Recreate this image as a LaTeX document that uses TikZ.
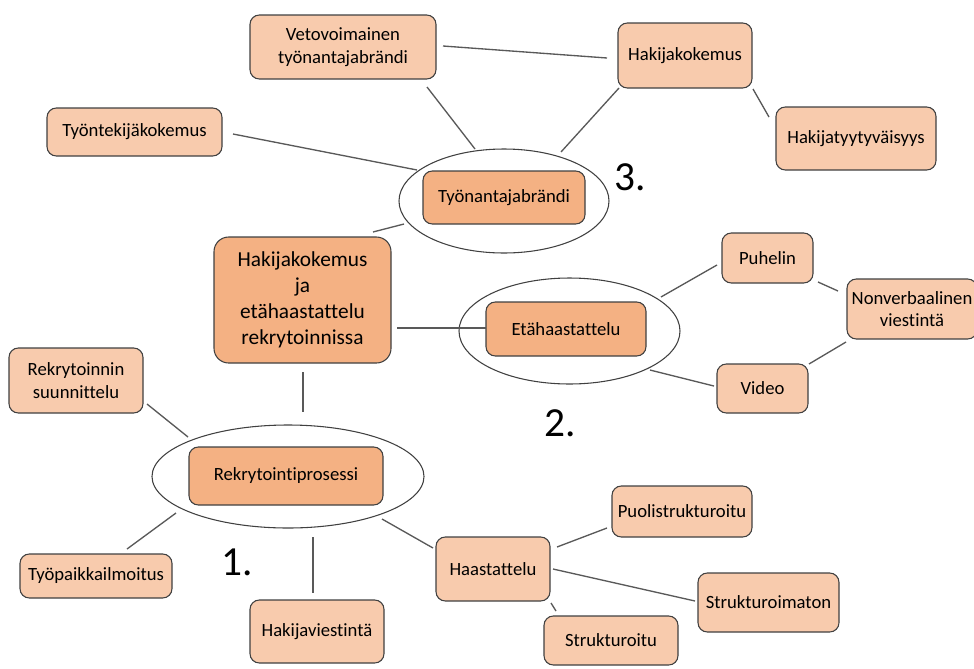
\documentclass[tikz,border=0pt]{standalone}
\usepackage{fontspec}
\setmainfont{Carlito}[Ligatures=NoCommon]
\usetikzlibrary{shapes.geometric}
\definecolor{lightor}{HTML}{F8CBAD}
\definecolor{darkor}{HTML}{F4B183}
\definecolor{edgegray}{HTML}{404040}
\definecolor{linegray}{HTML}{595959}
\begin{document}
\begin{tikzpicture}[x=0.75pt,y=-0.75pt,
  sz/.style 2 args={minimum width=#1*0.75pt, minimum height=#2*0.75pt},
  box/.style={draw=edgegray, line width=0.8pt, rounded corners=7pt, align=center, inner sep=0pt, font=\fontsize{14}{17.5}\selectfont},
  light/.style={box, fill=lightor},
  dark/.style={box, fill=darkor},
  ring/.style={draw=edgegray, ellipse, line width=0.8pt, inner sep=0pt},
  link/.style={draw=linegray, line width=1pt},
  num/.style={font=\fontsize{31}{31}\selectfont, inner sep=0pt}]
\useasboundingbox (0,0) rectangle (974,668);
\clip (0,0) rectangle (974,668);

% ellipses
\node[ring, sz={210}{104}] (e3) at (504,201) {};
\node[ring, sz={221}{106}] (e2) at (569.5,331) {};
\node[ring, sz={272}{103}] (e1) at (288,476.5) {};

% boxes
\node[light, sz={186}{64}] (vet) at (343,47) {Vetovoimainen\\työnantajabrändi};
\node[light, sz={175}{48}] (tyontek) at (134.5,132) {Työntekijäkokemus};
\node[dark, sz={162}{53}] (tyonantaja) at (504,197.5) {Työnantajabrändi};
\node[light, sz={134}{65}] (hakk) at (685,55.5) {Hakijakokemus};
\node[light, sz={160}{63}] (hakty) at (856,138.5) {Hakijatyytyväisyys};
\node[dark, sz={177}{126}, rounded corners=11pt, font=\fontsize{16}{19.5}\selectfont] (main) at (302.5,300) {Hakijakokemus\\ja\\etähaastattelu\\rekrytoinnissa};
\node[light, sz={134}{65}] (rsuun) at (76,380.5) {Rekrytoinnin\\suunnittelu};
\node[dark, sz={160}{54}] (eta) at (566,329) {Etähaastattelu};
\node[light, sz={91}{50}] (puh) at (767.5,258) {Puhelin};
\node[light, sz={130}{60}, font=\fontsize{14}{16.5}\selectfont] (nonv) at (912,309) {Nonverbaalinen\\viestintä};
\node[light, sz={91}{49}] (video) at (762.5,388.5) {Video};
\node[dark, sz={194}{58}] (rekpro) at (286,476) {Rekrytointiprosessi};
\node[light, sz={152}{44}] (tyopaikka) at (96,576) {Työpaikkailmoitus};
\node[light, sz={134}{63}] (hakvi) at (317,631.5) {Hakijaviestintä};
\node[light, sz={114}{64}] (haas) at (493,569) {Haastattelu};
\node[light, sz={140}{51}] (puoli) at (682,511.5) {Puolistrukturoitu};
\node[light, sz={141}{59}] (strukton) at (768.5,602.5) {Strukturoimaton};
\node[light, sz={134}{49}] (struk) at (611,640.5) {Strukturoitu};

% numbers
\node[num] (n3) at (630,177) {3.};
\node[num] (n2) at (560,423) {2.};
\node[num] (n1) at (237,562) {1.};

% connector end points
\coordinate (l1a) at (443,46);  \coordinate (l1b) at (607,58);
\coordinate (l2a) at (427,87);  \coordinate (l2b) at (475,149);
\coordinate (l3a) at (233,134); \coordinate (l3b) at (417,170);
\coordinate (l4a) at (619,88);  \coordinate (l4b) at (561,152);
\coordinate (l5a) at (753,89);  \coordinate (l5b) at (769,117);
\coordinate (l6a) at (404,224); \coordinate (l6b) at (373,232);
\coordinate (l7a) at (397,328); \coordinate (l7b) at (486,328);
\coordinate (l8a) at (661,297); \coordinate (l8b) at (717,265);
\coordinate (l9a) at (818,282); \coordinate (l9b) at (838,291);
\coordinate (l10a) at (809,364); \coordinate (l10b) at (846,342);
\coordinate (l11a) at (650,370); \coordinate (l11b) at (714,386);
\coordinate (l12a) at (303,372); \coordinate (l12b) at (303,412);
\coordinate (l13a) at (147,404); \coordinate (l13b) at (188,437);
\coordinate (l14a) at (176,513); \coordinate (l14b) at (127,549);
\coordinate (l15a) at (313,537); \coordinate (l15b) at (313,593);
\coordinate (l16a) at (382,519); \coordinate (l16b) at (433,548);
\coordinate (l17a) at (557,547); \coordinate (l17b) at (607,528);
\coordinate (l18a) at (553,569); \coordinate (l18b) at (695,601);
\coordinate (l19a) at (551,603); \coordinate (l19b) at (556,611);

\foreach \i in {1,...,19} { \draw[link] (l\i a) -- (l\i b); }
\end{tikzpicture}
\end{document}
